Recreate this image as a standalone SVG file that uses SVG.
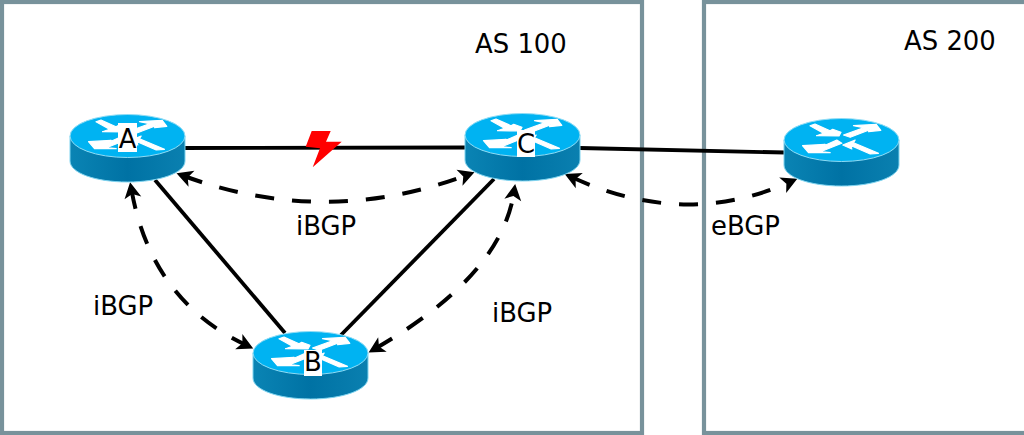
<svg xmlns="http://www.w3.org/2000/svg" xmlns:xlink="http://www.w3.org/1999/xlink" width="1024" height="435" viewBox="0 0 1024 435">
<style>
.as{fill:#fff;stroke:#78929b;stroke-width:4.200}
.link{fill:none;stroke:#000;stroke-width:3.800}
.bgp{fill:none;stroke:#000;stroke-width:4;stroke-dasharray:19 18;marker-start:url(#head);marker-end:url(#head)}
text{font-family:"DejaVu Sans",sans-serif;font-size:25.900px;fill:#000}
.c{text-anchor:middle}
.lab{fill:#fff}
</style>
<defs>
<marker id="head" markerUnits="userSpaceOnUse" markerWidth="22" markerHeight="20" refX="9" refY="10" orient="auto-start-reverse" viewBox="0 0 22 20"><path d="M1,1.500 L17,10 L1,18.500 L5,10 Z" fill="#000"/></marker>
<linearGradient id="side" x1="0" x2="1" y1="0" y2="0"><stop offset="0" stop-color="#0a84b4"/><stop offset=".5" stop-color="#0072a4"/><stop offset="1" stop-color="#0a80b0"/></linearGradient>
<g id="router">
<path d="M-57.500,0 V25 C-57.500,37 -32,46 0,46 C32,46 57.500,37 57.500,25 V0 Z" fill="url(#side)" stroke="#7fd4f0" stroke-width="1"/>
<ellipse cx="0" cy="0" rx="57.500" ry="21.500" fill="#00b3f2" stroke="#8fdcf5" stroke-width="1"/>
<g fill="#fff" stroke="#fff" stroke-width="1.200" stroke-linejoin="round">
<path d="M-31.500,-14.300 L-26.500,-16 L-11.500,-9.300 L-8.800,-10.700 L-.5,-7.700 L-2.500,-4 L-25,-4.300 L-18,-6.700 Z"/>
<path d="M12,-14.300 L34.700,-15.700 L39.300,-9.700 L27,-8.300 L30.300,-11 L8.700,-2.700 L2,-5 L22,-12.300 Z"/>
<path d="M-39,5.700 L-16.300,4.300 L-19.700,6.700 L-4.700,0 L.3,3.300 L-21,11.700 L-11.300,12.700 L-33,12.700 Z"/>
<path d="M1.300,5 L13.700,0 L12,2.700 L37,13.300 L28.700,14 L9.700,5.700 L10.300,9 Z"/>
</g>
</g>
</defs>
<g id="as100"><rect class="as" x="2" y="2" width="640" height="431"/><text x="475" y="52.500">AS 100</text></g>
<g id="as200"><rect class="as" x="704" y="2" width="324" height="431"/><text x="904" y="49.500">AS 200</text></g>
<g id="connectors">
<path class="link" d="M185,148 L466,147.500"/>
<path class="link" d="M580,148 L785,152.500"/>
<path class="link" d="M155,180 L285,333"/>
<path class="link" d="M494,179 L341,335"/>
<path class="bgp" d="M184,176 Q325,228 467,175"/>
<path class="bgp" d="M131.500,190 Q151.300,300.500 246,345"/>
<path class="bgp" d="M375.500,348.500 Q501.300,276 514,192"/>
<path class="bgp" d="M572,177.300 Q685,229 790,182"/>
</g>
<g id="node-a"><use href="#router" x="127.500" y="136"/><rect class="lab" x="118" y="123" width="19" height="29"/><text class="c" x="127.500" y="148">A</text></g>
<g id="node-c"><use href="#router" x="522.500" y="135"/><rect class="lab" x="517" y="130" width="18" height="27"/><text class="c" x="526" y="152.500">C</text></g>
<g id="node-b"><use href="#router" x="310.500" y="353"/><rect class="lab" x="304" y="350" width="18" height="26"/><text class="c" x="313" y="371">B</text></g>
<g id="node-d"><use href="#router" x="841.500" y="140"/></g>
<polygon id="fault" points="311.700,131 330.700,131 326,141.700 341.700,141.700 312.700,167.300 320,148.300 305.700,146.700" fill="#ff0000"/>
<g id="labels">
<text x="296" y="235">iBGP</text>
<text x="93" y="314.500">iBGP</text>
<text x="492" y="322">iBGP</text>
<text x="711" y="235">eBGP</text>
</g>
</svg>
